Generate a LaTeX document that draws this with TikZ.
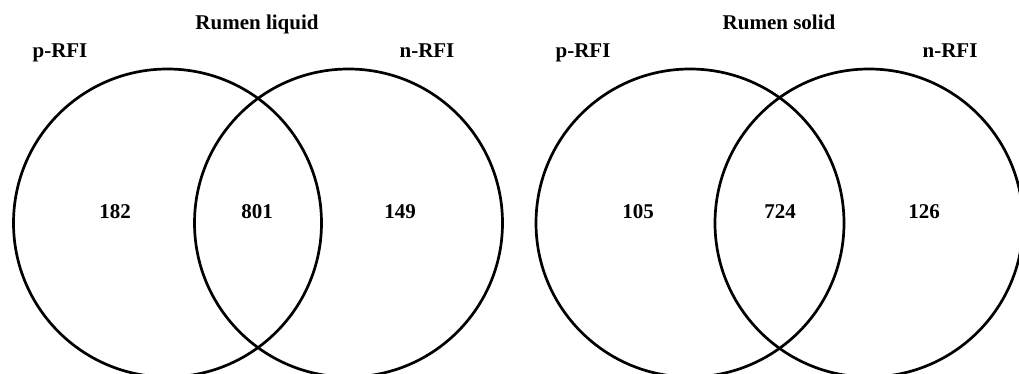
\documentclass[tikz,border=0pt]{standalone}
\usepackage{fontspec}
\setmainfont{Liberation Serif}
\begin{document}
\begin{tikzpicture}[x=1pt,y=1pt,line width=2.7pt,
    lab/.style={font=\fontsize{21}{25}\selectfont\bfseries,inner sep=0pt,anchor=base}]
  \clip (0,0) rectangle (1019,374);
  % rumen liquid: centres 167.5 and 348.5
  \draw (167.5,151) circle (154);
  \draw (348.5,151) circle (154);
  \node[lab] (liqtitle) at (257,344) {Rumen liquid};
  \node[lab] (liqp) at (60,316) {p-RFI};
  \node[lab] (liqn) at (427,316) {n-RFI};
  \node[lab] (liqa) at (115,155) {182};
  \node[lab] (liqab) at (257,155) {801};
  \node[lab] (liqb) at (400,155) {149};
  % rumen solid: centres 690 and 869
  \draw (690,151) circle (154);
  \draw (869,151) circle (154);
  \node[lab] (soltitle) at (779,344) {Rumen solid};
  \node[lab] (solp) at (583,316) {p-RFI};
  \node[lab] (soln) at (950,316) {n-RFI};
  \node[lab] (sola) at (638,155) {105};
  \node[lab] (solab) at (780,155) {724};
  \node[lab] (solb) at (924,155) {126};
\end{tikzpicture}
\end{document}
